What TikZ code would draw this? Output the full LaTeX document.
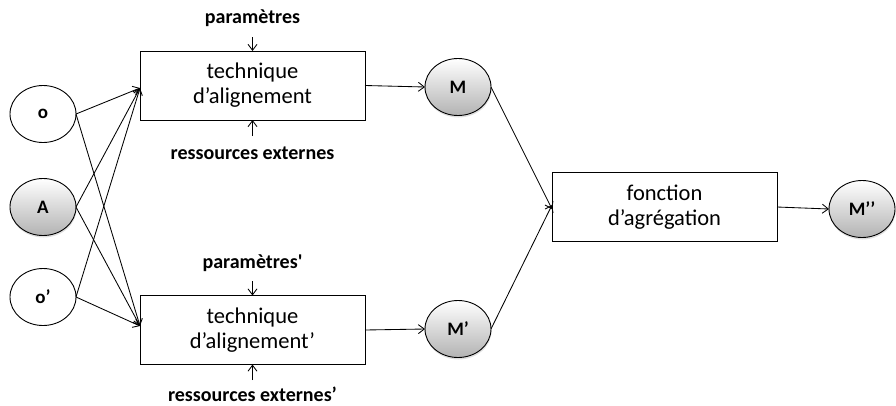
\documentclass[tikz,border=0pt]{standalone}
\usepackage{fontspec}
\setmainfont{Carlito}
\newfontfamily\rawfont{Carlito}
\usetikzlibrary{shapes.geometric,arrows.meta,shadows}
\begin{document}
\begin{tikzpicture}[x=1pt,y=-1pt,
  every node/.style={inner sep=0pt, outer sep=0pt},
  proc/.style={draw, line width=1pt, minimum width=225pt, minimum height=69pt, align=center, font=\fontsize{22.5}{25}\selectfont},
  lbl/.style={font=\fontsize{20}{22}\bfseries\selectfont},
  elw/.style={draw, line width=0.9pt, ellipse, minimum width=66pt, minimum height=57pt, fill=white, font=\fontsize{19}{21}\bfseries\selectfont},
  elg/.style={elw, top color=white, bottom color=black!30, drop shadow={opacity=0.25, shadow xshift=0.5pt, shadow yshift=-2pt}},
  arr/.style={-{Straight Barb[length=6pt,width=9pt]}, line width=0.85pt}]
\useasboundingbox (0,0) rectangle (896,405);
% boxes
\node[proc] (t1) at (252.5,85.5) {technique\\d’alignement};
\node[proc] (t2) at (252.5,330) {technique\\d’alignement’};
\node[proc] (ag) at (664.5,207) {fonction\\d’agrégation};
% ellipses
\node[elw] (o) at (43,114) {o};
\node[elg] (A) at (43,207) {A};
\node[elw] (op) at (43,297) {o’};
\node[elg] (M) at (458,87) {M};
\node[elg] (Mp) at (458,329) {M’};
\node[elg] (Mpp) at (862,209) {M’’};
% labels
\node[lbl] (p1) at (252.5,18) {paramètres};
\node[lbl] (r1) at (252.5,153) {ressources externes};
\node[lbl] (p2) at (252.5,263) {paramètres{\rawfont\bfseries '}};
\node[lbl] (r2) at (252.5,394) {ressources externes’};
\coordinate (p1e) at (252.5,37);
\coordinate (r1e) at (252.5,136);
\coordinate (p2e) at (252.5,281);
\coordinate (r2e) at (252.5,380);
\draw[arr] (p1e) -- (t1.north);
\draw[arr] (r1e) -- (t1.south);
\draw[arr] (p2e) -- (t2.north);
\draw[arr] (r2e) -- (t2.south);
% inputs
\coordinate (in1) at (140,88);
\coordinate (in2) at (140,326);
\foreach \s in {o,A,op}{
  \draw[arr] (\s.east) -- (in1);
  \draw[arr] (\s.east) -- (in2);
}
% outputs
\draw[arr] (t1.east) -- (M.west);
\draw[arr] (t2.east) -- (Mp.west);
\draw[arr] (M.east) -- ([yshift=-2pt]ag.west);
\draw[arr] (Mp.east) -- ([yshift=2pt]ag.west);
\draw[arr] (ag.east) -- (Mpp.west);
\end{tikzpicture}
\end{document}
